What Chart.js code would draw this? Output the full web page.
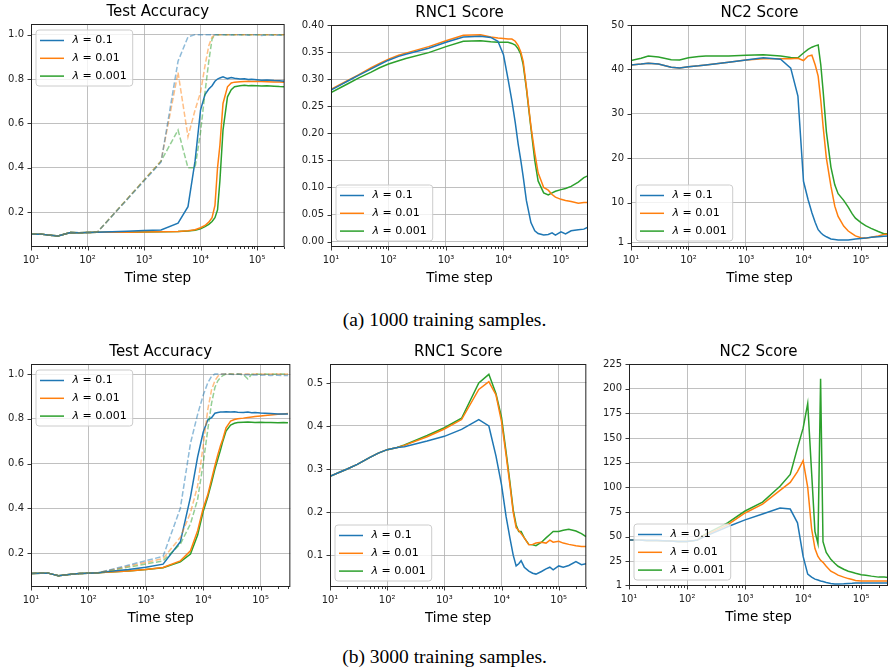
<!DOCTYPE html>
<html>
<head>
<meta charset="utf-8">
<script src="https://cdn.jsdelivr.net/npm/chart.js@4.4.1/dist/chart.umd.min.js"></script>
<style>
    body { margin: 0; width: 889px; height: 671px; overflow: hidden; position: relative; background: #fff; }
    canvas { position: absolute; }
    .caption { position: absolute; left: 0; width: 889px; text-align: center; font-family: 'Liberation Serif', serif; font-size: 19.5px; line-height: 1; color: #000; }
</style>
</head>
<body>
<canvas id="accA"></canvas>
<canvas id="rncA"></canvas>
<canvas id="ncA"></canvas>
<canvas id="accB"></canvas>
<canvas id="rncB"></canvas>
<canvas id="ncB"></canvas>
<div class="caption" style="top:310px">(a) 1000 training samples.</div>
<div class="caption" style="top:647px">(b) 3000 training samples.</div>
<script>
// training steps where the metrics were logged
const steps = [10, 15, 20, 30, 50, 70, 100, 150, 200,
    500, 1000, 2000, 4000, 6000, 8000, 10000, 12000, 14000,
    16000, 18000, 20000, 22000, 25000, 30000, 35000, 40000, 50000,
    60000, 70000, 80000, 100000, 120000, 150000, 200000, 250000, 300000];

const lambdaLabels = ['0.1', '0.01', '0.001'];
const xMajorTicks = [10, 100, 1000, 10000, 100000];
const xTickLabels = ['10¹', '10²', '10³', '10⁴', '10⁵'];
const accTicks = [0.2, 0.4, 0.6, 0.8, 1.0];
const rnc1kTicks = [0, 0.05, 0.10, 0.15, 0.20, 0.25, 0.30, 0.35, 0.40];
const nc1kTicks = [1, 10, 20, 30, 40, 50];
const rnc3kTicks = [0.1, 0.2, 0.3, 0.4, 0.5];
const nc3kTicks = [1, 25, 50, 75, 100, 125, 150, 175, 200, 225];

// (a) 1000 training samples
const testAcc1k_01 = [0.100, 0.101, 0.097, 0.093, 0.108, 0.107, 0.108, 0.110, 0.111,
    0.114, 0.117, 0.120, 0.150, 0.225, 0.430, 0.660, 0.730, 0.755,
    0.770, 0.790, 0.800, 0.805, 0.810, 0.802, 0.807, 0.804, 0.800,
    0.801, 0.798, 0.799, 0.797, 0.795, 0.796, 0.793, 0.792, 0.790];
const testAcc1k_001 = [0.100, 0.101, 0.097, 0.093, 0.108, 0.107, 0.108, 0.110, 0.110,
    0.110, 0.111, 0.112, 0.113, 0.116, 0.121, 0.130, 0.140, 0.155,
    0.175, 0.230, 0.400, 0.500, 0.690, 0.765, 0.782, 0.786, 0.788,
    0.789, 0.790, 0.789, 0.790, 0.789, 0.788, 0.787, 0.787, 0.786];
const testAcc1k_0001 = [0.100, 0.101, 0.097, 0.093, 0.108, 0.107, 0.108, 0.110, 0.110,
    0.110, 0.111, 0.112, 0.113, 0.115, 0.118, 0.125, 0.135, 0.145,
    0.158, 0.175, 0.210, 0.340, 0.570, 0.720, 0.752, 0.765, 0.770,
    0.772, 0.770, 0.771, 0.770, 0.769, 0.770, 0.768, 0.766, 0.765];
const trainAcc1k_01 = [0.100, 0.101, 0.097, 0.093, 0.108, 0.107, 0.108, 0.110, null,
    null, null, 0.425, 0.880, 0.990, 1.000, 1.000, 1.000, 1.000,
    1.000, 1.000, 1.000, 0.999, 1.000, 1.000, 0.998, 1.000, 0.999,
    1.000, 0.997, 0.999, 1.000, 0.996, 0.999, 0.997, 0.998, 0.996];
const trainAcc1k_001 = [0.100, 0.101, 0.097, 0.093, 0.108, 0.107, 0.108, 0.110, null,
    null, null, 0.430, 0.830, 0.540, 0.660, 0.740, 0.860, 0.950,
    0.990, 1.000, 1.000, 1.000, 1.000, 0.999, 1.000, 1.000, 0.999,
    1.000, 1.000, 0.999, 1.000, 1.000, 0.999, 1.000, 0.999, 1.000];
const trainAcc1k_0001 = [0.100, 0.101, 0.097, 0.093, 0.108, 0.107, 0.108, 0.110, null,
    null, null, 0.430, 0.570, 0.400, 0.400, 0.560, 0.740, 0.880,
    0.980, 1.000, 1.000, 1.000, 0.999, 1.000, 1.000, 0.999, 1.000,
    1.000, 0.999, 1.000, 1.000, 0.999, 1.000, 1.000, 0.999, 1.000];

const rnc1_1k_01 = [0.280, 0.290, 0.297, 0.307, 0.319, 0.327, 0.335, 0.342, 0.346,
    0.357, 0.368, 0.378, 0.379, 0.377, 0.370, 0.345, 0.300, 0.260,
    0.220, 0.180, 0.150, 0.120, 0.076, 0.035, 0.020, 0.015, 0.012,
    0.013, 0.016, 0.012, 0.018, 0.014, 0.020, 0.022, 0.023, 0.027];
const rnc1_1k_001 = [0.281, 0.291, 0.298, 0.308, 0.321, 0.329, 0.337, 0.344, 0.348,
    0.360, 0.371, 0.381, 0.382, 0.378, 0.376, 0.375, 0.374, 0.374,
    0.370, 0.362, 0.350, 0.333, 0.286, 0.213, 0.164, 0.127, 0.100,
    0.095, 0.087, 0.082, 0.078, 0.076, 0.074, 0.071, 0.072, 0.072];
const rnc1_1k_0001 = [0.275, 0.285, 0.292, 0.302, 0.313, 0.321, 0.328, 0.334, 0.338,
    0.349, 0.360, 0.370, 0.371, 0.369, 0.368, 0.368, 0.368, 0.366,
    0.363, 0.356, 0.346, 0.327, 0.283, 0.210, 0.150, 0.112, 0.090,
    0.086, 0.090, 0.093, 0.096, 0.098, 0.102, 0.110, 0.118, 0.122];

const nc2_1k_01 = [41.0, 41.2, 41.4, 41.2, 40.5, 40.3, 40.6, 40.8, 41.0,
    41.6, 42.1, 42.6, 42.3, 40.3, 34.0, 14.8, 10.7, 7.7,
    5.5, 3.9, 3.2, 2.7, 2.3, 1.8, 1.7, 1.6, 1.6,
    1.6, 1.7, 1.8, 1.9, 2.0, 2.2, 2.3, 2.4, 2.5];
const nc2_1k_001 = [41.0, 41.2, 41.4, 41.2, 40.5, 40.3, 40.6, 40.8, 41.0,
    41.6, 42.1, 42.4, 42.4, 42.4, 42.5, 42.0, 43.0, 43.2,
    41.0, 38.5, 33.0, 27.0, 20.0, 13.7, 9.2, 6.9, 4.7,
    3.6, 3.0, 2.5, 2.1, 2.0, 2.2, 2.5, 2.8, 2.9];
const nc2_1k_0001 = [42.0, 42.5, 43.0, 42.8, 42.2, 42.1, 42.6, 42.9, 43.0,
    43.0, 43.2, 43.3, 43.0, 42.7, 42.6, 43.7, 44.5, 45.0,
    45.3, 45.5, 41.0, 35.0, 26.0, 18.0, 14.0, 12.0, 10.5,
    9.0, 7.5, 6.5, 5.5, 4.8, 4.2, 3.5, 3.0, 3.0];

// (b) 3000 training samples
const testAcc3k_01 = [0.108, 0.110, 0.110, 0.098, 0.105, 0.108, 0.110, 0.112, 0.116,
    0.126, 0.136, 0.150, 0.250, 0.450, 0.630, 0.740, 0.795, 0.805,
    0.825, 0.828, 0.830, 0.830, 0.832, 0.830, 0.831, 0.829, 0.828,
    0.830, 0.827, 0.828, 0.826, 0.825, 0.824, 0.822, 0.821, 0.822];
const testAcc3k_001 = [0.108, 0.110, 0.110, 0.098, 0.105, 0.108, 0.110, 0.112, 0.114,
    0.120, 0.126, 0.135, 0.165, 0.210, 0.300, 0.400, 0.460, 0.530,
    0.590, 0.640, 0.680, 0.710, 0.760, 0.790, 0.797, 0.800, 0.803,
    0.806, 0.808, 0.810, 0.813, 0.815, 0.817, 0.820, 0.822, 0.824];
const testAcc3k_0001 = [0.108, 0.110, 0.110, 0.098, 0.105, 0.108, 0.110, 0.112, 0.114,
    0.120, 0.126, 0.134, 0.160, 0.195, 0.280, 0.385, 0.450, 0.515,
    0.575, 0.620, 0.660, 0.700, 0.745, 0.772, 0.780, 0.783, 0.785,
    0.786, 0.785, 0.784, 0.785, 0.784, 0.783, 0.782, 0.783, 0.782];
const trainAcc3k_01 = [0.108, 0.110, 0.110, 0.098, 0.105, 0.108, 0.110, 0.112, null,
    null, null, 0.185, 0.400, 0.690, 0.820, 0.905, 0.960, 0.990,
    1.000, 1.000, 0.999, 1.000, 1.000, 0.999, 0.998, 1.000, 0.997,
    0.998, 0.996, 0.997, 0.995, 0.996, 0.994, 0.995, 0.993, 0.994];
const trainAcc3k_001 = [0.108, 0.110, 0.110, 0.098, 0.105, 0.108, 0.110, 0.112, null,
    null, null, 0.175, 0.270, 0.380, 0.500, 0.680, 0.840, 0.930,
    0.970, 0.990, 1.000, 1.000, 1.000, 1.000, 0.999, 1.000, 1.000,
    1.000, 0.999, 1.000, 1.000, 0.999, 1.000, 1.000, 0.999, 1.000];
const trainAcc3k_0001 = [0.108, 0.110, 0.110, 0.098, 0.105, 0.108, 0.110, 0.112, null,
    null, null, 0.165, 0.240, 0.330, 0.440, 0.600, 0.750, 0.870,
    0.940, 0.970, 0.985, 0.993, 1.000, 1.000, 0.999, 1.000, 0.998,
    0.978, 0.999, 1.000, 0.999, 1.000, 0.999, 1.000, 1.000, 0.999];

const rnc1_3k_01 = [0.283, 0.293, 0.300, 0.311, 0.327, 0.337, 0.345, 0.350, 0.352,
    0.365, 0.376, 0.392, 0.415, 0.400, 0.330, 0.263, 0.190, 0.140,
    0.100, 0.075, 0.080, 0.087, 0.072, 0.063, 0.058, 0.056, 0.062,
    0.068, 0.072, 0.066, 0.075, 0.072, 0.076, 0.085, 0.078, 0.080];
const rnc1_3k_001 = [0.283, 0.293, 0.300, 0.311, 0.327, 0.337, 0.345, 0.350, 0.355,
    0.375, 0.393, 0.415, 0.485, 0.503, 0.472, 0.410, 0.333, 0.264,
    0.200, 0.164, 0.157, 0.150, 0.140, 0.124, 0.125, 0.128, 0.130,
    0.128, 0.135, 0.130, 0.132, 0.128, 0.125, 0.122, 0.120, 0.120];
const rnc1_3k_0001 = [0.283, 0.293, 0.300, 0.311, 0.327, 0.337, 0.345, 0.350, 0.356,
    0.378, 0.396, 0.418, 0.500, 0.520, 0.475, 0.420, 0.340, 0.270,
    0.205, 0.170, 0.155, 0.155, 0.140, 0.125, 0.124, 0.122, 0.130,
    0.140, 0.148, 0.155, 0.155, 0.158, 0.160, 0.156, 0.150, 0.143];

const nc2_3k_01 = [46.5, 46.5, 46.0, 46.0, 45.5, 45.2, 45.2, 46.5, 50.0,
    60.0, 67.0, 73.0, 79.0, 78.0, 64.0, 30.0, 12.0, 9.0,
    7.0, 6.0, 5.0, 4.5, 3.5, 2.5, 2.0, 2.0, 2.2,
    2.5, 2.7, 3.0, 3.0, 3.0, 3.0, 3.0, 3.0, 3.0];
const nc2_3k_001 = [46.5, 46.5, 46.0, 46.0, 45.5, 45.2, 45.2, 46.5, 51.0,
    62.0, 74.0, 83.0, 97.0, 105.0, 116.0, 127.0, 100.0, 58.0,
    38.0, 30.0, 26.0, 24.0, 20.0, 15.0, 13.0, 11.0, 9.0,
    7.5, 6.5, 5.5, 5.0, 5.0, 5.0, 5.0, 5.0, 5.0];
const nc2_3k_0001 = [46.5, 46.5, 46.0, 46.0, 45.5, 45.2, 45.2, 46.5, 52.0,
    64.0, 76.0, 85.0, 101.0, 113.0, 140.0, 160.0, 185.0, 115.0,
    55.0, 43.0, 210.0, 45.0, 34.0, 27.0, 23.0, 20.0, 17.0,
    15.0, 14.0, 13.0, 11.5, 11.0, 10.0, 9.0, 9.0, 8.5];

const lineColors = ['#1f77b4', '#ff7f0e', '#2ca02c'];
const fadedColors = ['rgba(31,119,180,0.5)', 'rgba(255,127,14,0.5)', 'rgba(44,160,44,0.5)'];
const FONT = "'DejaVu Sans', sans-serif";
const GRID = '#b0b0b0';

Chart.defaults.font.family = FONT;

function toPoints(values) {
    return steps.map((s, i) => ({ x: s, y: values[i] }));
}

function solid(values, k) {
    return {
        label: 'λ = ' + lambdaLabels[k],
        data: toPoints(values),
        borderColor: lineColors[k],
        borderWidth: 1.5,
        pointRadius: 0,
        tension: 0,
        spanGaps: true,
    };
}

function dashed(values, k) {
    return {
        label: '',
        data: toPoints(values),
        borderColor: fadedColors[k],
        borderWidth: 1.5,
        borderDash: [5.5, 2.4],
        pointRadius: 0,
        tension: 0,
        spanGaps: true,
    };
}

function isDecade(v) {
    return xMajorTicks.includes(v);
}

// frame, tick marks, title and the in-axes legend (matplotlib look)
const panelDecor = {
    id: 'panelDecor',
    afterDatasetsDraw(chart) {
        const ctx = chart.ctx;
        const a = chart.chartArea;
        ctx.save();
        ctx.strokeStyle = '#222';
        ctx.lineWidth = 0.9;
        ctx.beginPath();
        chart.scales.x.ticks.forEach(t => {
            const px = Math.round(chart.scales.x.getPixelForValue(t.value)) + 0.5;
            const len = isDecade(t.value) ? 3.5 : 2;
            ctx.moveTo(px, a.bottom);
            ctx.lineTo(px, a.bottom + len);
        });
        chart.scales.y.ticks.forEach(t => {
            const py = Math.round(chart.scales.y.getPixelForValue(t.value)) + 0.5;
            ctx.moveTo(a.left, py);
            ctx.lineTo(a.left - 3.5, py);
        });
        ctx.stroke();
        ctx.lineWidth = 1;
        ctx.strokeRect(a.left + 0.5, a.top + 0.5, a.right - a.left - 1, a.bottom - a.top - 1);
        ctx.restore();
    },
    afterDraw(chart, args, opts) {
        const ctx = chart.ctx;
        const a = chart.chartArea;
        ctx.save();
        ctx.fillStyle = '#000';
        ctx.textAlign = 'center';
        ctx.textBaseline = 'middle';
        ctx.font = '15px ' + FONT;
        ctx.fillText(opts.title, (a.left + a.right) / 2, a.top - 11.5);

        // legend box
        const items = chart.data.datasets.filter(d => d.label);
        const fs = 11;
        const rowH = 17.8;
        const h = 56;
        ctx.font = fs + 'px ' + FONT;
        const textW = Math.max(...items.map(d => ctx.measureText(d.label).width));
        const w = 36.5 + textW + 6;
        const x = a.left + 5;
        const y = opts.corner === 'upper' ? a.top + 6 : a.bottom - 6 - h;
        const r = 3;
        ctx.beginPath();
        ctx.moveTo(x + r, y);
        ctx.lineTo(x + w - r, y);
        ctx.arcTo(x + w, y, x + w, y + r, r);
        ctx.lineTo(x + w, y + h - r);
        ctx.arcTo(x + w, y + h, x + w - r, y + h, r);
        ctx.lineTo(x + r, y + h);
        ctx.arcTo(x, y + h, x, y + h - r, r);
        ctx.lineTo(x, y + r);
        ctx.arcTo(x, y, x + r, y, r);
        ctx.closePath();
        ctx.fillStyle = 'rgba(255,255,255,0.8)';
        ctx.fill();
        ctx.strokeStyle = '#cccccc';
        ctx.lineWidth = 1;
        ctx.stroke();

        ctx.textAlign = 'left';
        items.forEach((d, i) => {
            const cy = y + 10.5 + i * rowH;
            ctx.strokeStyle = d.borderColor;
            ctx.lineWidth = 1.5;
            ctx.beginPath();
            ctx.moveTo(x + 4, cy);
            ctx.lineTo(x + 28, cy);
            ctx.stroke();
            ctx.fillStyle = '#000';
            ctx.font = 'italic ' + fs + 'px ' + FONT;
            const sym = d.label.charAt(0);
            ctx.fillText(sym, x + 36.5, cy);
            const sw = ctx.measureText(sym).width;
            ctx.font = fs + 'px ' + FONT;
            ctx.fillText(d.label.slice(1), x + 36.5 + sw, cy);
        });
        ctx.restore();
    },
};
Chart.register(panelDecor);

function makeChart(p) {
    const canvas = document.getElementById(p.id);
    const top = p.plotTop - 24;
    const w = p.plotRight + p.padRight - p.left;
    const h = p.plotBottom + 42 - top;
    canvas.width = w;
    canvas.height = h;
    canvas.style.left = p.left + 'px';
    canvas.style.top = top + 'px';
    canvas.style.width = w + 'px';
    canvas.style.height = h + 'px';

    const xTicks = [];
    xMajorTicks.forEach(m => {
        for (let k = 1; k <= 9; k++) {
            if (m * k <= p.xMax) xTicks.push(m * k);
        }
    });

    return new Chart(canvas, {
        type: 'line',
        data: { datasets: p.datasets },
        options: {
            responsive: false,
            animation: false,
            devicePixelRatio: 1,
            layout: { padding: { top: 24, right: p.padRight, left: 0, bottom: 0 } },
            plugins: {
                legend: { display: false },
                tooltip: { enabled: false },
                panelDecor: { title: p.title, corner: p.corner },
            },
            scales: {
                x: {
                    type: 'logarithmic',
                    min: 10,
                    max: p.xMax,
                    afterBuildTicks: scale => { scale.ticks = xTicks.map(v => ({ value: v })); },
                    afterFit: scale => { scale.height = 42; },
                    ticks: {
                        autoSkip: false,
                        maxRotation: 0,
                        padding: 7,
                        color: '#222',
                        font: { size: 10 },
                        callback: v => {
                            const i = xMajorTicks.indexOf(v);
                            return i >= 0 ? xTickLabels[i] : '';
                        },
                    },
                    grid: {
                        drawTicks: false,
                        lineWidth: 0.8,
                        color: c => (c.tick && isDecade(c.tick.value)) ? GRID : 'rgba(0,0,0,0)',
                    },
                    border: { display: false },
                    title: {
                        display: true,
                        text: 'Time step',
                        color: '#000',
                        font: { size: 13.5 },
                        padding: { top: 0, bottom: 2 },
                    },
                },
                y: {
                    type: 'linear',
                    min: p.yMin,
                    max: p.yMax,
                    afterBuildTicks: scale => { scale.ticks = p.yTicks.map(v => ({ value: v })); },
                    afterFit: scale => { scale.width = p.plotLeft - p.left; },
                    ticks: {
                        padding: 7,
                        color: '#222',
                        font: { size: 10 },
                        callback: v => p.yFormat(v),
                    },
                    grid: { drawTicks: false, lineWidth: 0.8, color: GRID },
                    border: { display: false },
                },
            },
        },
    });
}

const fmt1 = v => v.toFixed(1);
const fmt2 = v => v.toFixed(2);
const fmtInt = v => String(Math.round(v));

const panels = [
    {
        id: 'accA', title: 'Test Accuracy', left: 0, plotLeft: 31, plotRight: 288, plotTop: 24, plotBottom: 247, padRight: 3,
        xMax: 3.08e5, yMin: 0.043, yMax: 1.048, yTicks: accTicks, yFormat: fmt1, corner: 'upper',
        datasets: [
            dashed(trainAcc1k_01, 0), dashed(trainAcc1k_001, 1), dashed(trainAcc1k_0001, 2),
            solid(testAcc1k_01, 0), solid(testAcc1k_001, 1), solid(testAcc1k_0001, 2),
        ],
    },
    {
        id: 'rncA', title: 'RNC1 Score', left: 295, plotLeft: 331, plotRight: 588, plotTop: 25, plotBottom: 247, padRight: 3,
        xMax: 2.95e5, yMin: -0.01, yMax: 0.40, yTicks: rnc1kTicks, yFormat: fmt2, corner: 'lower',
        datasets: [solid(rnc1_1k_01, 0), solid(rnc1_1k_001, 1), solid(rnc1_1k_0001, 2)],
    },
    {
        id: 'ncA', title: 'NC2 Score', left: 600, plotLeft: 631, plotRight: 888, plotTop: 25, plotBottom: 247, padRight: 1,
        xMax: 2.95e5, yMin: 0, yMax: 50, yTicks: nc1kTicks, yFormat: fmtInt, corner: 'lower',
        datasets: [solid(nc2_1k_01, 0), solid(nc2_1k_001, 1), solid(nc2_1k_0001, 2)],
    },
    {
        id: 'accB', title: 'Test Accuracy', left: 0, plotLeft: 31, plotRight: 292, plotTop: 364, plotBottom: 587, padRight: 3,
        xMax: 3.3e5, yMin: 0.048, yMax: 1.045, yTicks: accTicks, yFormat: fmt1, corner: 'upper',
        datasets: [
            dashed(trainAcc3k_01, 0), dashed(trainAcc3k_001, 1), dashed(trainAcc3k_0001, 2),
            solid(testAcc3k_01, 0), solid(testAcc3k_001, 1), solid(testAcc3k_0001, 2),
        ],
    },
    {
        id: 'rncB', title: 'RNC1 Score', left: 295, plotLeft: 330, plotRight: 590, plotTop: 364, plotBottom: 587, padRight: 3,
        xMax: 3.04e5, yMin: 0.026, yMax: 0.544, yTicks: rnc3kTicks, yFormat: fmt1, corner: 'lower',
        datasets: [solid(rnc1_3k_01, 0), solid(rnc1_3k_001, 1), solid(rnc1_3k_0001, 2)],
    },
    {
        id: 'ncB', title: 'NC2 Score', left: 600, plotLeft: 629, plotRight: 888, plotTop: 364, plotBottom: 586, padRight: 1,
        xMax: 2.9e5, yMin: 0, yMax: 225, yTicks: nc3kTicks, yFormat: fmtInt, corner: 'lower',
        datasets: [solid(nc2_3k_01, 0), solid(nc2_3k_001, 1), solid(nc2_3k_0001, 2)],
    },
];

panels.forEach(makeChart);
</script>
</body>
</html>
